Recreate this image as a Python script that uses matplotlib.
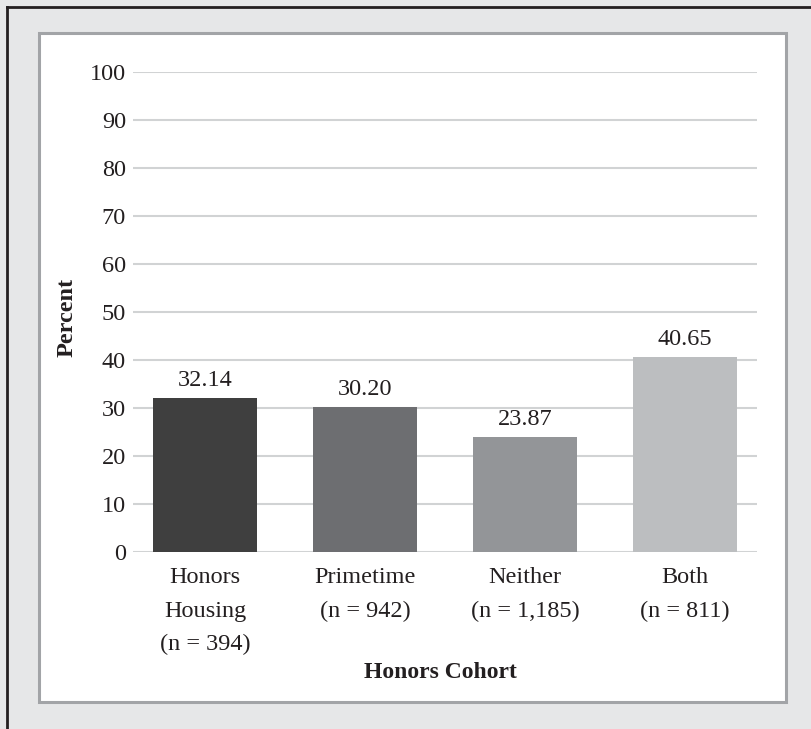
import matplotlib
matplotlib.use("Agg")
import matplotlib.pyplot as plt
from matplotlib.patches import Rectangle
from matplotlib.lines import Line2D

categories = ["Honors\nHousing\n(n = 394)", "Primetime\n(n = 942)", "Neither\n(n = 1,185)", "Both\n(n = 811)"]
values = [32.14, 30.20, 23.87, 40.65]
value_labels = ["32.14", "30.20", "23.87", "40.65"]
bar_colors = ["#3f3f3f", "#6d6e71", "#939598", "#bcbec0"]
yticks = [0, 10, 20, 30, 40, 50, 60, 70, 80, 90, 100]

plt.rcParams['font.family'] = ['Liberation Serif', 'DejaVu Serif']
text_color = "#231f20"
FS = 17.5

W, H = 811, 729
fig = plt.figure(figsize=(W/100, H/100), dpi=100)
fig.patch.set_facecolor("#e6e7e8")

# inner white panel
fig.patches.append(Rectangle((39/W, 1-702/H), (786-39)/W, (702-33)/H,
                             transform=fig.transFigure, facecolor="white",
                             edgecolor="#a2a4a7", linewidth=2.2, zorder=-5))
# outer dark frame (top and left)
fig.lines.append(Line2D([6.5/W, 1.0], [1-6.5/H, 1-6.5/H], transform=fig.transFigure,
                        color="#231f20", linewidth=2.0, zorder=-4))
fig.lines.append(Line2D([6.5/W, 6.5/W], [0, 1-6.5/H], transform=fig.transFigure,
                        color="#231f20", linewidth=2.0, zorder=-4))

ax = fig.add_axes([133/W, 1-552/H, (757-133)/W, 480/H])
ax.set_zorder(2)
ax.set_facecolor("none")
x = list(range(len(categories)))
ax.bar(x, values, width=0.65, color=bar_colors, zorder=3)
for xi, v, lab in zip(x, values, value_labels):
    ax.annotate(lab, (xi, v), xytext=(0, 5), textcoords="offset points",
                ha="center", va="bottom", fontsize=FS, color=text_color)

ax.set_xlim(-0.45, 3.45)
ax.set_ylim(0, 100)
ax.set_yticks(yticks)
ax.set_yticklabels([str(t) for t in yticks], fontsize=FS, color=text_color)
ax.set_xticks(x)
ax.set_xticklabels(categories, fontsize=FS, color=text_color, linespacing=1.78, va="top")
ax.tick_params(axis="both", length=0)
ax.tick_params(axis="y", pad=5)
ax.tick_params(axis="x", pad=11)
ax.grid(axis="y", color="#d1d3d4", linewidth=1.5, zorder=0)
ax.set_axisbelow(True)
for s in ax.spines.values():
    s.set_visible(False)

fig.text(67/W, 1-317/H, "Percent", rotation=90, ha="center", va="center",
         fontsize=FS, fontweight="bold", color=text_color, zorder=5)
fig.text(440/W, 1-672/H, "Honors Cohort", ha="center", va="center",
         fontsize=FS - 0.5, fontweight="bold", color=text_color, zorder=5)

fig.savefig("out.png", dpi=100, facecolor=fig.get_facecolor())
